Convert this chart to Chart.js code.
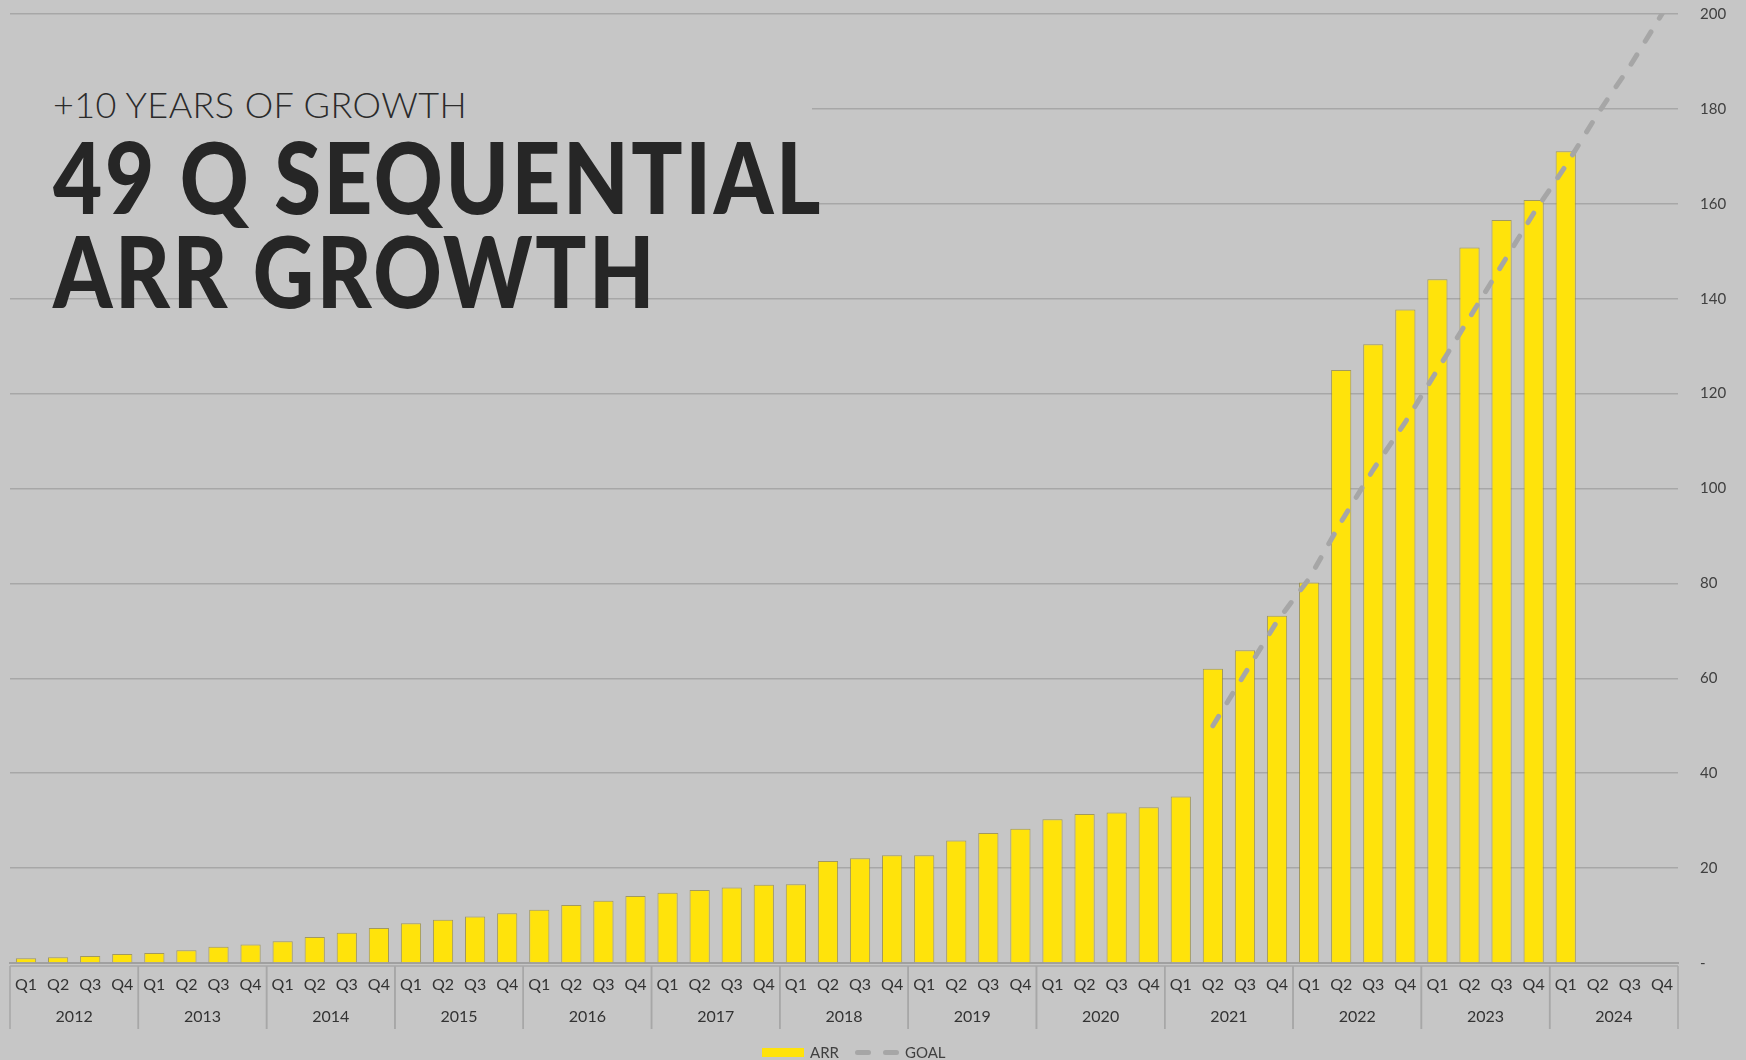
<!DOCTYPE html>
<html>
<head>
<meta charset="utf-8">
<script src="https://cdn.jsdelivr.net/npm/chart.js@4.4.1/dist/chart.umd.min.js"></script>
<style>
  html, body { margin: 0; padding: 0; background: #c6c6c6; }
  #wrap { position: relative; width: 1746px; height: 1060px; overflow: hidden; background: #c6c6c6; }
  #chart { position: absolute; left: 0; top: 0; }
  #titleBox { position: absolute; left: 0; top: 62px; width: 812px; height: 226px; background: #c6c6c6; }
  .sub { position: absolute; left: 53px; top: 83px; font-family: Lato, sans-serif; font-weight: 300;
         font-size: 36px; line-height: 1.2; letter-spacing: 0.5px; color: #2b2b2b; white-space: nowrap; }
  .head { position: absolute; left: 53px; font-family: Lato, sans-serif; font-weight: 900;
          font-size: 99px; line-height: 94px; color: #262626; white-space: nowrap;
          letter-spacing: 3px; transform-origin: 0 0; }
  #legend { position: absolute; left: 0; top: 1041px; width: 1746px; height: 20px;
            font-family: Lato, sans-serif; font-size: 15px; color: #404040; }
  #legend span { position: absolute; }
</style>
</head>
<body>
<div id="wrap">
  <canvas id="chart" width="1746" height="1060"></canvas>
  <div id="titleBox"></div>
  <div class="sub" id="sub">+10 YEARS OF GROWTH</div>
  <div class="head" id="head1" style="top:129px">49 Q SEQUENTIAL</div>
  <div class="head" id="head2" style="top:223px">ARR GROWTH</div>
  <div id="legend">
    <span style="left:762px;top:7px;width:42px;height:9px;background:#ffe30b;"></span>
    <span style="left:810px;top:2px;">ARR</span>
    <span style="left:855px;top:9px;width:16px;height:5px;border-radius:3px;background:#a6a6a6;"></span>
    <span style="left:883px;top:9px;width:16px;height:5px;border-radius:3px;background:#a6a6a6;"></span>
    <span style="left:905px;top:2px;">GOAL</span>
  </div>
</div>
<script>
const years = ['2012', '2013', '2014', '2015', '2016', '2017', '2018', '2019', '2020', '2021', '2022', '2023', '2024'];
const quarters = ['Q1', 'Q2', 'Q3', 'Q4'];

// ARR per quarter, 2012 Q1 .. 2024 Q1 (rest of 2024 empty)
const arrValues = [
    1.0, 1.2, 1.5, 1.9,
    2.1, 2.7, 3.4, 3.9,
    4.6, 5.5, 6.4, 7.4,
    8.4, 9.1, 9.8, 10.5,
    11.2, 12.2, 13.1, 14.1,
    14.8, 15.4, 15.9, 16.5,
    16.6, 21.5, 22.1, 22.7,
    22.7, 25.8, 27.4, 28.3,
    30.3, 31.4, 31.7, 32.8,
    35.1, 62.0, 65.9, 73.2,
    80.2, 125.0, 130.4, 137.7,
    144.1, 150.8, 156.6, 160.8,
    171.1, null, null, null
];

// goal line, starts at 2021 Q2
const goalStart = '2021 Q2';
const goalValues = [50, 61, 72, 81, 93, 104, 114, 125, 136, 147, 158, 168, 179, 189, 200];

const yTicks = [0, 20, 40, 60, 80, 100, 120, 140, 160, 180, 200];

// build category list
const categories = [];
years.forEach(y => quarters.forEach(q => categories.push(y + ' ' + q)));
const goalOffset = categories.indexOf(goalStart);
const goalData = categories.map((c, i) => (i >= goalOffset ? goalValues[i - goalOffset] : null));

// heading: narrow the glyphs so the lines keep their original width
function squeeze(id, target) {
    const el = document.getElementById(id);
    const w = el.getBoundingClientRect().width;
    el.style.transform = 'scaleX(' + (target / w) + ')';
}
function track(id, target) {
    const el = document.getElementById(id);
    const n = el.textContent.length;
    const w = el.getBoundingClientRect().width;
    el.style.letterSpacing = (0.5 + (target - w) / n) + 'px';
}
squeeze('head1', 770);
squeeze('head2', 604);
track('sub', 414);

const labelFont = { family: 'Lato, sans-serif', size: 16 };
const lineCol = '#a7a7a7';

// year boxes under the quarter labels
const yearBoxes = {
    id: 'yearBoxes',
    afterDraw(chart) {
        const ctx = chart.ctx;
        const xs = chart.scales.x;
        const area = chart.chartArea;
        const boxTop = area.bottom + 3;
        const boxBottom = area.bottom + 66;
        ctx.save();
        ctx.strokeStyle = lineCol;
        ctx.lineWidth = 1.5;
        ctx.beginPath();
        ctx.moveTo(area.left, boxTop);
        ctx.lineTo(area.right, boxTop);
        ctx.stroke();
        ctx.fillStyle = '#333333';
        ctx.font = '16px Lato, sans-serif';
        ctx.textAlign = 'center';
        ctx.textBaseline = 'middle';
        years.forEach((y, k) => {
            const first = k * 4;
            const last = first + 3;
            const left = k === 0 ? area.left : (xs.getPixelForValue(first - 1) + xs.getPixelForValue(first)) / 2;
            const right = k === years.length - 1 ? area.right : (xs.getPixelForValue(last) + xs.getPixelForValue(last + 1)) / 2;
            ctx.beginPath();
            ctx.moveTo(left, boxTop);
            ctx.lineTo(left, boxBottom);
            ctx.moveTo(right, boxTop);
            ctx.lineTo(right, boxBottom);
            ctx.stroke();
            ctx.fillText(y, (left + right) / 2, area.bottom + 54);
        });
        ctx.restore();
    }
};

new Chart(document.getElementById('chart'), {
    data: {
        labels: categories,
        datasets: [
            {
                type: 'line',
                label: 'GOAL',
                data: goalData,
                borderColor: '#a6a6a6',
                borderWidth: 5,
                borderDash: [11, 16],
                borderCapStyle: 'round',
                pointRadius: 0,
                tension: 0,
                spanGaps: false,
                order: 0
            },
            {
                type: 'bar',
                label: 'ARR',
                data: arrValues,
                backgroundColor: '#ffe30b',
                borderColor: 'rgba(150, 138, 60, 0.75)',
                borderWidth: 1,
                categoryPercentage: 1,
                barPercentage: 0.63,
                order: 1
            }
        ]
    },
    options: {
        responsive: false,
        animation: false,
        devicePixelRatio: 1,
        layout: { padding: { left: 10, top: 14, right: 0, bottom: 0 } },
        plugins: {
            legend: { display: false },
            tooltip: { enabled: false },
            title: { display: false }
        },
        scales: {
            x: {
                grid: { display: false, drawTicks: false },
                border: { display: true, color: '#a0a0a0', width: 2 },
                ticks: {
                    color: '#333333',
                    font: labelFont,
                    padding: 12,
                    autoSkip: false,
                    maxRotation: 0,
                    callback: (v, i) => quarters[i % 4]
                },
                afterFit: s => { s.height = 97; }
            },
            y: {
                position: 'right',
                min: 0,
                max: 200,
                afterBuildTicks: s => { s.ticks = yTicks.map(v => ({ value: v })); },
                grid: { color: lineCol, lineWidth: 1.5, drawTicks: false },
                border: { display: false },
                ticks: {
                    color: '#404040',
                    font: { family: 'Lato, sans-serif', size: 15 },
                    padding: 22,
                    callback: v => (v === 0 ? '-' : v)
                },
                afterFit: s => { s.width = 68; s.paddingTop = 0; s.paddingBottom = 0; }
            }
        }
    },
    plugins: [yearBoxes]
});
</script>
</body>
</html>
